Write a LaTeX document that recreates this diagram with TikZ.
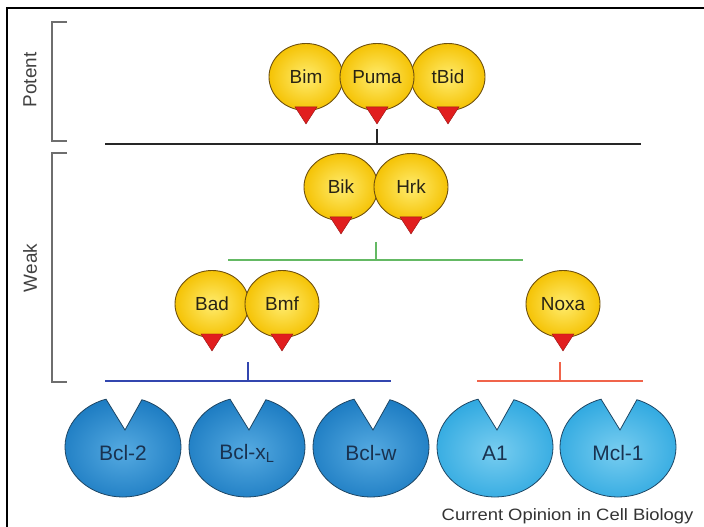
\documentclass[tikz,border=0pt]{standalone}
\usepackage{fontspec}
\usepackage{graphicx}
\setmainfont{Liberation Sans}
\usetikzlibrary{shapes.geometric}

\definecolor{balloonfill}{RGB}{245,195,5}
\definecolor{balloonlight}{RGB}{255,236,110}
\definecolor{balloonedge}{RGB}{110,80,15}
\definecolor{tipred}{RGB}{225,30,30}
\definecolor{tipedge}{RGB}{150,20,20}
\definecolor{darkpacin}{RGB}{85,170,225}
\definecolor{darkpacout}{RGB}{30,125,195}
\definecolor{lightpacin}{RGB}{120,205,240}
\definecolor{lightpacout}{RGB}{50,170,225}
\definecolor{pacedge}{RGB}{30,70,100}
\definecolor{labeltext}{RGB}{40,35,20}
\definecolor{pactext}{RGB}{25,50,80}
\definecolor{sidegray}{RGB}{110,110,110}
\definecolor{greenline}{RGB}{100,185,100}
\definecolor{blueline}{RGB}{50,70,175}
\definecolor{redline}{RGB}{240,100,75}

\tikzset{
  balloon/.style={ellipse, draw=balloonedge, line width=0.9pt, minimum width=74bp, minimum height=67bp,
    inner sep=0pt, inner color=balloonlight, outer color=balloonfill,
    font=\fontsize{19}{21}\selectfont, text=labeltext},
  tip/.style={fill=tipred, draw=tipedge, line width=0.4pt},
  darkpac/.style={draw=pacedge, line width=0.8pt, inner color=darkpacin, outer color=darkpacout},
  lightpac/.style={draw=pacedge, line width=0.8pt, inner color=lightpacin, outer color=lightpacout},
  paclabel/.style={font=\fontsize{21}{23}\selectfont, text=pactext},
  bracket/.style={draw=sidegray, line width=1.2pt},
  sidelabel/.style={rotate=90, font=\fontsize{19}{21}\selectfont, text=black!75},
  bar/.style={line width=2.4pt}
}

\begin{document}
\begin{tikzpicture}[x=1bp,y=-1bp]
\useasboundingbox (0,0) rectangle (704,527);
%frame
\draw[line width=2bp] (7,527) -- (7,8) -- (704,8);

%side brackets
\draw[bracket] (67,22) -- (52,22) -- (52,141) -- (67,141);
\draw[bracket] (67,153) -- (52,153) -- (52,382) -- (67,382);
\node[sidelabel] (potent) at (30,80) {Potent};
\node[sidelabel] (weak) at (30,268) {Weak};

%BH3-only balloons
\node[balloon] (bim) at (306,77) {Bim};
\node[balloon] (tbid) at (448,77) {tBid};
\node[balloon] (puma) at (377,77) {Puma};
\node[balloon] (bik) at (341,187) {Bik};
\node[balloon] (hrk) at (411,187) {Hrk};
\node[balloon] (bad) at (212,304) {Bad};
\node[balloon] (bmf) at (282,304) {Bmf};
\node[balloon] (noxa) at (563,304) {Noxa};
\foreach \n in {bim,puma,tbid,bik,hrk,bad,bmf,noxa}{
	\filldraw[tip] (\n.south) ++(-11,-4) -- ++(22,0) -- ++(-11,17) -- cycle;
}

%binding bars
\coordinate (potL) at (105,144);
\coordinate (potR) at (641,144);
\draw[bar, black!85] (potL) -- (potR);
\draw[line width=2pt, black!85] (puma.south) ++(0,18) -- (puma.south |- potL);

\coordinate (greenL) at (228,260);
\coordinate (greenR) at (523,260);
\coordinate (greenT) at (376,242);
\draw[bar, greenline] (greenL) -- (greenR);
\draw[line width=2pt, greenline] (greenT) -- (greenT |- greenL);

\coordinate (blueL) at (105,381);
\coordinate (blueR) at (391,381);
\coordinate (blueT) at (248,362);
\draw[bar, blueline] (blueL) -- (blueR);
\draw[line width=2pt, blueline] (blueT) -- (blueT |- blueL);

\coordinate (redL) at (477,381);
\coordinate (redR) at (643,381);
\coordinate (redT) at (560,362);
\draw[bar, redline] (redL) -- (redR);
\draw[line width=2pt, redline] (redT) -- (redT |- redL);

%anti-apoptotic proteins
\foreach \cx/\nm/\txt/\sty in {123/bcltwo/Bcl-2/darkpac, 247/bclxl/{Bcl-x\textsubscript{L}}/darkpac,
	371/bclw/Bcl-w/darkpac, 495/aone/A1/lightpac, 618/mclone/Mcl-1/lightpac}{
	\path[\sty] (\cx,447) ++(253:58 and 50) arc[start angle=253, end angle=-71, x radius=58, y radius=50]
		-- (\cx+2,430) -- cycle;
	\node[paclabel] (\nm) at (\cx,453) {\txt};
}

\node[anchor=base east, font=\fontsize{16.5}{18}\selectfont, text=black!80] (credit) at (697,520)
	{\scalebox{1.12}[1]{Current Opinion in Cell Biology}};
\end{tikzpicture}
\end{document}
